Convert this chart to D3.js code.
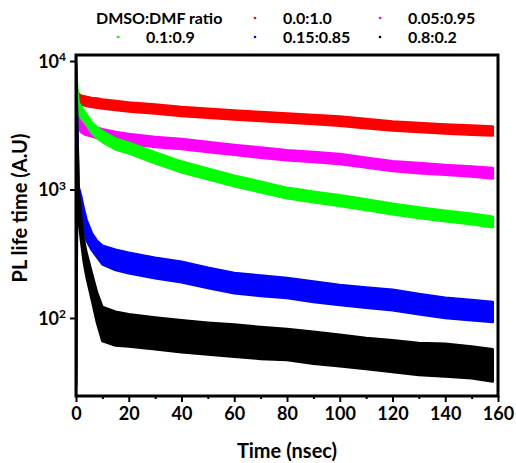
<!DOCTYPE html>
<html lang="en">
  <head>
    <meta charset="utf-8">
    <title>PL decay vs DMSO:DMF ratio</title>
    <script src="https://cdn.jsdelivr.net/npm/d3@7"></script>
    <style>
      body { margin: 0; background: #fff; }
      text { font-family: Lato, "Liberation Sans", sans-serif; font-weight: bold; fill: #000; }
    </style>
  </head>
  <body>
    <script type="text/javascript">
      // sample times (nsec)
      var timeNs = [0, 0.5, 1, 2, 3, 4, 6, 8, 10, 15, 20, 30, 40, 50, 60, 70, 80, 90, 100, 110, 120, 130, 140, 150, 158];

      // lower / upper edge of each noisy band (A.U)
      var redLo = [30, 4980, 4700, 4560, 4520, 4470, 4380, 4330, 4270, 4150, 4040, 3900, 3730, 3610, 3500, 3410, 3320, 3230, 3140, 3000, 2880, 2800, 2730, 2670, 2630];
      var redHi = [6500, 5860, 5530, 5370, 5320, 5260, 5150, 5100, 5020, 4880, 4750, 4590, 4390, 4250, 4120, 4010, 3910, 3800, 3700, 3540, 3390, 3300, 3210, 3150, 3090];
      var magentaLo = [30, 3660, 3020, 2790, 2700, 2650, 2590, 2520, 2470, 2340, 2260, 2140, 2070, 1960, 1860, 1770, 1690, 1640, 1580, 1480, 1390, 1340, 1300, 1260, 1220];
      var magentaHi = [8000, 4380, 3610, 3340, 3230, 3170, 3100, 3020, 2950, 2800, 2700, 2560, 2470, 2340, 2220, 2120, 2020, 1960, 1890, 1770, 1660, 1610, 1550, 1510, 1470];
      var greenLo = [30, 5000, 3910, 3640, 3360, 3160, 2740, 2510, 2340, 2050, 1910, 1600, 1360, 1200, 1060, 950, 854, 795, 745, 691, 641, 600, 565, 536, 508];
      var greenHi = [9000, 6050, 4730, 4400, 4070, 3830, 3310, 3040, 2830, 2490, 2310, 1940, 1650, 1450, 1280, 1150, 1030, 961, 902, 836, 776, 726, 684, 649, 615];
      var blueLo = [30, 2000, 760, 640, 500, 400, 338, 297, 262, 236, 223, 204, 190, 171, 156, 148, 143, 133, 126, 120, 115, 107, 100, 96, 93];
      var blueHi = [9500, 3200, 1050, 880, 700, 580, 458, 397, 365, 340, 322, 294, 274, 246, 224, 214, 205, 192, 181, 173, 166, 154, 144, 138, 133];
      var blackLo = [25, 1500, 600, 384, 268, 208, 138, 91, 66, 61, 60, 57, 54, 52, 50, 48, 47, 44, 42, 40, 38, 36, 35, 34, 32];
      var blackHi = [10500, 2700, 1000, 580, 405, 321, 224, 157, 122, 112, 107, 101, 96, 92, 89, 85, 82, 78, 74, 70, 67, 64, 63, 60, 57];

      var seriesNames = ["0.0:1.0", "0.05:0.95", "0.1:0.9", "0.15:0.85", "0.8:0.2"];
      var xTicks = [0, 20, 40, 60, 80, 100, 120, 140, 160];
      var xMinorTicks = [10, 30, 50, 70, 90, 110, 130, 150];
      var yTicks = [100, 1000, 10000];

      var colors = ["#ff0000", "#ff00ff", "#00ff00", "#0000ff", "#000000"];
      var bands = [[redLo, redHi], [magentaLo, magentaHi], [greenLo, greenHi], [blueLo, blueHi], [blackLo, blackHi]];

      var w = 516;
      var h = 463;
      // plot box (note: "top" is a reserved window prop, so prefix these)
      var pLeft = 76, pRight = 498, pTop = 55, pBottom = 396;

      var svg = d3.select("body")
        .append("svg")
        .attr("width", w)
        .attr("height", h);

      var xScale = d3.scaleLinear()
          .domain([0, 160])
          .range([pLeft, pRight]);
      var yScale = d3.scaleLog()
          .domain([24.7, 11140])
          .range([pBottom, pTop]);

      svg.append("clipPath")
          .attr("id", "plot-clip")
        .append("rect")
          .attr("x", pLeft)
          .attr("y", pTop)
          .attr("width", pRight - pLeft)
          .attr("height", pBottom - pTop);

      var area = d3.area()
          .x(function(d) { return xScale(d.t); })
          .y0(function(d) { return yScale(d.lo); })
          .y1(function(d) { return yScale(d.hi); });

      var plot = svg.append("g").attr("clip-path", "url(#plot-clip)");

      bands.forEach(function(b, i) {
        var pts = timeNs.map(function(t, j) { return {t: t, lo: b[0][j], hi: b[1][j]}; });
        plot.append("path")
            .datum(pts)
            .attr("d", area)
            .attr("fill", colors[i])
            .attr("stroke", colors[i])
            .attr("stroke-width", 2.5)
            .attr("stroke-linejoin", "round");
      });

      // frame
      svg.append("rect")
          .attr("x", pLeft)
          .attr("y", pTop)
          .attr("width", pRight - pLeft)
          .attr("height", pBottom - pTop)
          .attr("fill", "none")
          .attr("stroke", "#000")
          .attr("stroke-width", 3);

      // x axis
      var xAxis = d3.axisBottom(xScale)
          .tickValues(xTicks)
          .tickSize(6)
          .tickPadding(5)
          .tickFormat(d3.format("d"));
      var gx = svg.append("g")
          .attr("transform", "translate(0," + pBottom + ")")
          .call(xAxis);
      gx.select(".domain").remove();
      gx.selectAll("line").attr("stroke-width", 2);
      gx.selectAll("text").style("font-size", "18px");
      svg.append("g")
          .attr("transform", "translate(0," + pBottom + ")")
          .call(d3.axisBottom(xScale).tickValues(xMinorTicks).tickSize(3).tickFormat(""))
          .call(function(g) { g.select(".domain").remove(); g.selectAll("line").attr("stroke-width", 2); });

      // y axis
      var yAxis = d3.axisLeft(yScale)
          .tickValues(yTicks)
          .tickSize(6)
          .tickFormat("");
      var gy = svg.append("g")
          .attr("transform", "translate(" + pLeft + ",0)")
          .call(yAxis);
      gy.select(".domain").remove();
      gy.selectAll("line").attr("stroke-width", 2);
      gy.selectAll(".tick").append("text")
          .attr("x", -10)
          .attr("dy", "0.35em")
          .attr("text-anchor", "end")
          .style("font-size", "18px")
          .each(function(d) {
            var t = d3.select(this);
            t.append("tspan").text("10");
            t.append("tspan")
              .attr("dy", "-0.55em")
              .style("font-size", "12px")
              .text(Math.round(Math.log10(d)));
          });

      // axis titles
      svg.append("text")
          .attr("x", (pLeft + pRight) / 2)
          .attr("y", 451)
          .attr("dy", "0.35em")
          .attr("text-anchor", "middle")
          .style("font-size", "20px")
          .text("Time (nsec)");
      svg.append("text")
          .attr("transform", "translate(20,208) rotate(-90)")
          .attr("dy", "0.35em")
          .attr("text-anchor", "middle")
          .style("font-size", "20px")
          .text("PL life time (A.U)");

      // legend
      svg.append("text")
          .attr("x", 96)
          .attr("y", 18)
          .attr("dy", "0.35em")
          .style("font-size", "16px")
          .text("DMSO:DMF ratio");
      var legendPos = [[255, 18], [380, 18], [118, 37], [255, 37], [380, 37]];
      seriesNames.forEach(function(name, i) {
        svg.append("circle")
            .attr("cx", legendPos[i][0])
            .attr("cy", legendPos[i][1])
            .attr("r", 1.3)
            .attr("fill", colors[i]);
        svg.append("text")
            .attr("x", legendPos[i][0] + 28)
            .attr("y", legendPos[i][1])
            .attr("dy", "0.35em")
            .style("font-size", "16px")
            .text(name);
      });
    </script>
  </body>
</html>
